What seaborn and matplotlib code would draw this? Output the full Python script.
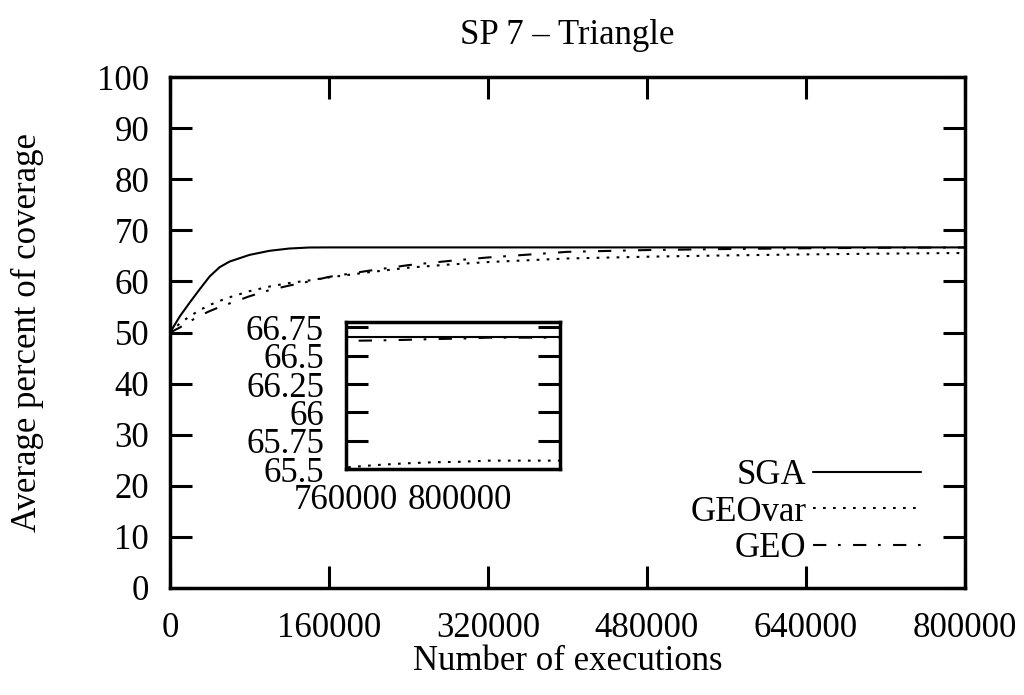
import pandas as pd
import seaborn as sns
from matplotlib import pyplot as plt

# values (average percent of coverage)
executions = [0, 10000, 20000, 30000, 40000, 50000, 60000, 80000, 100000, 120000,
              140000, 160000, 200000, 240000, 280000, 320000, 400000, 480000, 560000,
              640000, 720000, 760000, 770000, 780000, 790000, 800000, 810000, 820000, 840000]
sga = [50.0, 53.2, 55.9, 58.5, 61.0, 62.8, 63.9, 65.2, 66.0, 66.45,
       66.65, 66.67, 66.67, 66.67, 66.67, 66.67, 66.67, 66.67, 66.67,
       66.67, 66.67, 66.67, 66.67, 66.67, 66.67, 66.67, 66.67, 66.67, 66.67]
geovar = [50.0, 51.8, 53.2, 54.4, 55.4, 56.2, 56.9, 58.1, 59.0, 59.7,
          60.2, 60.8, 61.8, 62.7, 63.3, 63.8, 64.5, 64.85, 65.1,
          65.3, 65.45, 65.515, 65.535, 65.55, 65.56, 65.565, 65.575, 65.575, 65.575]
geo = [50.0, 51.0, 52.2, 53.3, 54.2, 55.0, 55.7, 57.1, 58.3, 59.2,
       60.0, 60.9, 62.1, 63.2, 64.0, 64.7, 65.8, 66.15, 66.35,
       66.5, 66.6, 66.632, 66.635, 66.64, 66.647, 66.652, 66.66, 66.66, 66.66]

algorithms = ['SGA', 'GEOvar', 'GEO']
main_xticks = [0, 160000, 320000, 480000, 640000, 800000]
main_yticks = list(range(0, 101, 10))
inset_xticks = [760000, 800000]
inset_yticks = [65.5, 65.75, 66.0, 66.25, 66.5, 66.75]
inset_ylabels = ['65.5', '65.75', '66', '66.25', '66.5', '66.75']

df = pd.DataFrame({
    'Number of executions': executions * 3,
    'coverage': sga + geovar + geo,
    'algo': ['SGA'] * len(sga) + ['GEOvar'] * len(geovar) + ['GEO'] * len(geo),
})

sns.set_theme(style='ticks')
plt.rcParams['font.family'] = ['Liberation Serif', 'DejaVu Serif']
plt.rcParams['font.size'] = 25
for k in ['text.color', 'axes.labelcolor', 'xtick.color', 'ytick.color', 'axes.edgecolor']:
    plt.rcParams[k] = 'black'

fs = 25
palette = {'SGA': 'black', 'GEOvar': 'black', 'GEO': 'black'}
dashes = {'SGA': '', 'GEOvar': (1.3, 3.5), 'GEO': (6.4, 5.6, 1.3, 5.9)}

fig = plt.figure(figsize=(10.24, 6.95), dpi=100)
ax = fig.add_axes([0.166, 0.154, 0.776, 0.735])

sns.lineplot(data=df, x='Number of executions', y='coverage', hue='algo', style='algo',
             hue_order=algorithms, style_order=algorithms, palette=palette, dashes=dashes,
             linewidth=1.5, ax=ax)

ax.set_xlim(0, 800000)
ax.set_ylim(0, 100)
ax.set_xticks(main_xticks)
ax.set_xticklabels([str(t) for t in main_xticks])
ax.set_yticks(main_yticks)
ax.tick_params(axis='both', which='both', direction='in', length=16, width=2.2,
               top=True, right=True, labelsize=fs)
ax.tick_params(axis='x', pad=17)
ax.tick_params(axis='y', pad=15)
for s in ax.spines.values():
    s.set_linewidth(2.5)
ax.set_title('SP 7 – Triangle', fontsize=fs, pad=24)
ax.set_xlabel('Number of executions', fontsize=fs, labelpad=0)
ax.set_ylabel('Average percent of coverage', fontsize=fs, labelpad=38)

handles, labels = ax.get_legend_handles_labels()
leg = ax.legend(handles, labels, loc='lower right', bbox_to_anchor=(0.945, 0.045),
                frameon=False, markerfirst=False, fontsize=fs, handlelength=3.1,
                handletextpad=0.2, labelspacing=0.1, borderpad=0, borderaxespad=0)

# inset zoom on the final executions
axin = fig.add_axes([0.338, 0.325, 0.209, 0.212])
sns.lineplot(data=df, x='Number of executions', y='coverage', hue='algo', style='algo',
             hue_order=algorithms, style_order=algorithms, palette=palette, dashes=dashes,
             linewidth=1.5, legend=False, ax=axin)
axin.set_xlim(760000, 835000)
axin.set_ylim(65.5, 66.8)
axin.set_xticks(inset_xticks)
axin.set_xticklabels([str(t) for t in inset_xticks])
axin.set_yticks(inset_yticks)
axin.set_yticklabels(inset_ylabels)
axin.tick_params(axis='y', direction='in', length=16, width=2.2, left=True, right=True,
                 labelsize=fs, pad=16)
axin.tick_params(axis='x', length=0, labelsize=fs, pad=11)
axin.set_xlabel('')
axin.set_ylabel('')
for s in axin.spines.values():
    s.set_linewidth(2.5)

fig.savefig('out.png', dpi=100)
